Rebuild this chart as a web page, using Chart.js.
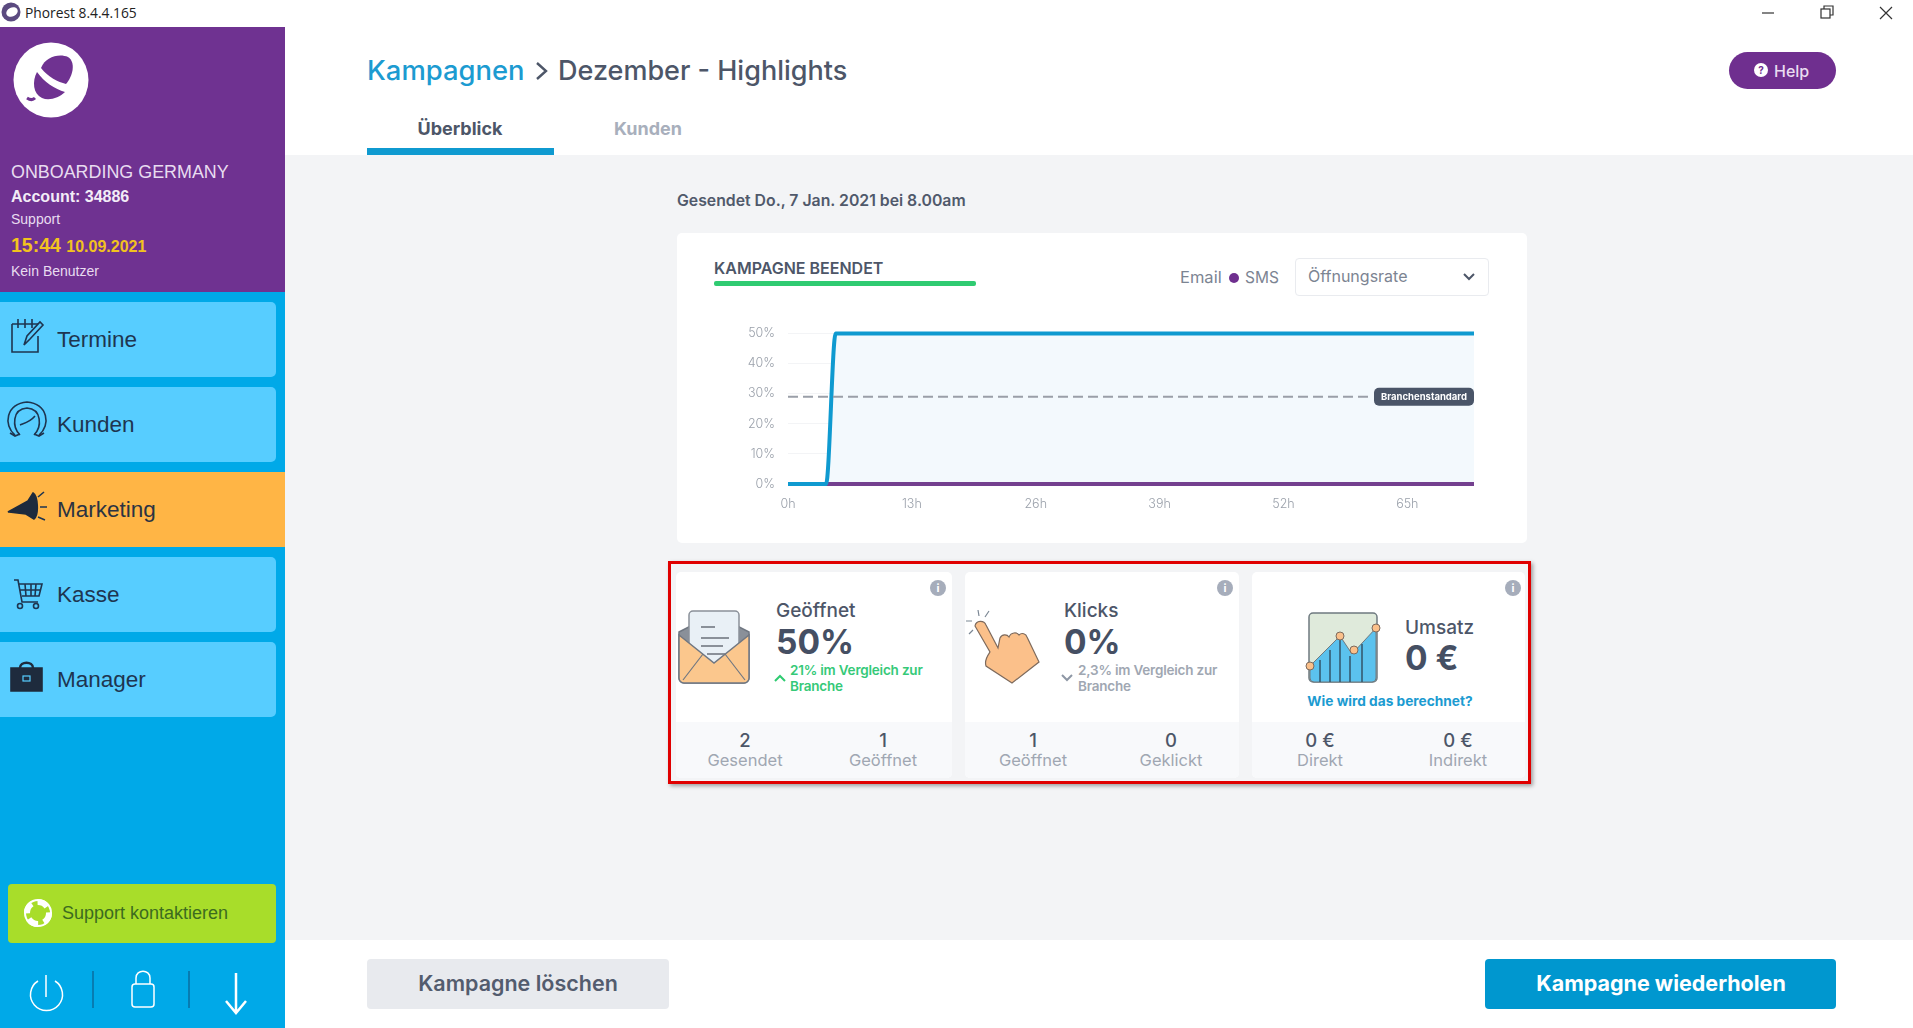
<!DOCTYPE html>
<html>
<head>
<meta charset="utf-8">
<title>Phorest</title>
<script src="https://cdn.jsdelivr.net/npm/chart.js@4"></script>
<style>
  html, body { margin: 0; width: 1913px; height: 1028px; overflow: hidden; background: #f3f4f6; font-family: Inter, "Open Sans", sans-serif; color: #4d5668; }
  .box { position: absolute; }
  .t { position: absolute; white-space: nowrap; transform: translateY(-50%); margin-top: -1px; }
  .c { transform: translate(-50%, -50%); }
  .side { font-family: "Liberation Sans", Arial, sans-serif; margin-top: 0; }
  .menu { position: absolute; left: 0; width: 276px; height: 75px; background: #57cdff; border-radius: 0 5px 5px 0; }
  .menuText { font-family: "Liberation Sans", Arial, sans-serif; font-size: 22.5px; color: #1e3550; left: 57px; margin-top: 0.5px; }
  .stat { position: absolute; top: 572px; height: 206px; background: #fff; border-radius: 5px; overflow: hidden; }
  .foot { position: absolute; left: 0; right: 0; bottom: 0; height: 56px; background: #f8f9fb; }
  .statTitle { font-size: 19px; font-weight: 500; color: #4d5668; }
  .statBig { font-size: 33.5px; font-weight: 700; color: #454f63; }
  .statSub { font-size: 13.5px; font-weight: 600; letter-spacing: -0.2px; }
  .footVal { font-size: 18.5px; font-weight: 500; color: #4d5668; }
  .footLab { font-size: 16.5px; color: #a0a7b2; }
  .info { position: absolute; width: 16px; height: 16px; border-radius: 50%; background: #a6adbb; color: #fff; font-size: 11px; font-weight: 700; text-align: center; line-height: 16px; }
  svg { position: absolute; overflow: visible; }
</style>
</head>
<body>

<!-- title bar -->
<div class="box" style="left:0;top:0;width:1913px;height:27px;background:#fff;border-bottom:1px solid #e6e6e6"></div>
<svg style="left:1px;top:2px" width="20" height="20" viewBox="0 0 20 20"><circle cx="10" cy="10" r="9.5" fill="#5b4a80"/><ellipse cx="11" cy="10" rx="6" ry="4.5" fill="#fff" transform="rotate(-25 11 10)"/></svg>
<div class="t" style="left:25px;top:13px;font-family:'Open Sans';font-size:13.8px;color:#222">Phorest 8.4.4.165</div>
<svg style="left:1761px;top:4px" width="150" height="20" fill="none" stroke="#333" stroke-width="1.2">
  <path d="M1 9h12"/><rect x="60" y="5" width="9" height="9"/><path d="M63 5V2h9v9h-3"/><path d="M119 3l12 12M131 3l-12 12"/>
</svg>

<!-- sidebar -->
<div class="box" style="left:0;top:27px;width:285px;height:265px;background:#6f3291"></div>
<div class="box" style="left:0;top:292px;width:285px;height:736px;background:#00a9e8"></div>
<svg style="left:13px;top:42px" width="76" height="76" viewBox="0 0 76 76">
  <circle cx="38" cy="38" r="37.5" fill="#fff"/>
  <path d="M28 26c4-11 18-15 27-11 8 5 5 19-2 27-8-2-18-7-25-16z" fill="#6f3291"/>
  <path d="M24 30c7 10 18 17 28 20-6 6-16 9-23 6-9-4-10-17-5-26z" fill="#6f3291"/>
  <path d="M14 56c3 2 6 2 8 0" stroke="#6f3291" stroke-width="3" fill="none"/>
</svg>
<div class="t side" style="left:11px;top:172px;font-size:17.9px;color:#e8dcf0">ONBOARDING GERMANY</div>
<div class="t side" style="left:11px;top:197px;font-size:16px;font-weight:700;color:#f3ecf7">Account: 34886</div>
<div class="t side" style="left:11px;top:219px;font-size:14px;color:#e8dcf0">Support</div>
<div class="t side" style="left:11px;top:245px;font-size:19.5px;font-weight:700;color:#f2c21e">15:44 <span style="font-size:16px">10.09.2021</span></div>
<div class="t side" style="left:11px;top:271px;font-size:14px;color:#e8dcf0">Kein Benutzer</div>

<div class="menu" style="top:302px"></div>
<div class="menu" style="top:387px"></div>
<div class="menu" style="top:472px;width:285px;background:#ffb545;border-radius:0"></div>
<div class="menu" style="top:557px"></div>
<div class="menu" style="top:642px"></div>
<div class="t menuText" style="top:339px">Termine</div>
<div class="t menuText" style="top:424px">Kunden</div>
<div class="t menuText" style="top:509px;color:#2b3342">Marketing</div>
<div class="t menuText" style="top:594px">Kasse</div>
<div class="t menuText" style="top:679px">Manager</div>

<svg style="left:0;top:300px" width="60" height="420" fill="none" stroke="#1e3550" stroke-width="1.6">
  <path d="M12 24H38M12 24V52H38V36"/><path d="M18 19v9M25 19v9M32 19v9"/><path d="M24 45l3-9 13-14 3 3-13 14z"/>
  <path d="M15 135c-12-10-9-31 12-33 21 2 24 23 12 33M20 135c-8-8-8-26 7-27 15 1 15 19 7 27M20 125c5-2 10-3 15-9M10 133l5 3 5-2M44 133l-5 3-5-2"/>
  <path d="M8 212l20-11 5-8c5 3 6 22 1 26l-8-5-17-2z" fill="#1e2b3d" stroke="#1e2b3d"/><path d="M38 197l6-5M40 207h7M38 217l7 3"/>
  <path d="M14 280h4l4 22h16M19 284h23l-3 12H22M25 284l1 12M31 284v12M36 284l-1 12M20 290h21"/><circle cx="20" cy="306" r="2.5"/><circle cx="36" cy="306" r="2.5"/>
  <path d="M11 368h31v23H11z" fill="#1e2b3d" stroke="#1e2b3d"/><path d="M20 368c0-7 13-7 13 0" stroke="#1e2b3d" stroke-width="2.5"/><rect x="23" y="376" width="7" height="5" stroke="#57cdff" stroke-width="1.2"/>
</svg>

<div class="box" style="left:8px;top:884px;width:268px;height:59px;background:#a8dd2a;border-radius:4px"></div>
<svg style="left:22px;top:897px" width="32" height="32"><circle cx="16" cy="16" r="13" fill="none" stroke="#fff" stroke-width="2"/><circle cx="16" cy="16" r="11" fill="none" stroke="#fff" stroke-width="6" stroke-dasharray="11 6"/></svg>
<div class="t side" style="left:62px;top:913px;font-size:18px;color:#3c6b1f">Support kontaktieren</div>
<svg style="left:0;top:960px" width="285" height="60" fill="none" stroke="#fff" stroke-width="1.5">
  <path d="M38 21a16 16 0 1 0 17 0M46 15v22"/>
  <path d="M93 11v37M189 11v37" stroke="#0a6ea0"/>
  <rect x="132" y="24" width="22" height="23" rx="3"/><path d="M136 24v-6c0-9 14-9 14 0v6"/>
  <path d="M236 13v40M226 41l10 12 10-12" stroke-width="2.5"/>
</svg>

<!-- header -->
<div class="box" style="left:285px;top:27px;width:1628px;height:128px;background:#fff"></div>
<div class="t" style="left:367px;top:71px;font-size:27.4px;font-weight:500;color:#1c9bd1">Kampagnen</div>
<svg style="left:534px;top:60px" width="16" height="22" fill="none" stroke="#4d5668" stroke-width="2.4"><path d="M3 3l9 8-9 8"/></svg>
<div class="t" style="left:558px;top:71px;font-size:27px;font-weight:500;color:#4d5668">Dezember - Highlights</div>
<div class="t c" style="left:460px;top:129px;font-size:18px;font-weight:700;color:#4d5668">Überblick</div>
<div class="t c" style="left:648px;top:129px;font-size:18px;font-weight:700;color:#a8afbc">Kunden</div>
<div class="box" style="left:367px;top:148px;width:187px;height:7px;background:#0f9ad0"></div>
<div class="box" style="left:1729px;top:52px;width:107px;height:37px;background:#6f2f8f;border-radius:19px"></div>
<div class="info" style="left:1754px;top:63px;width:14px;height:14px;line-height:14px;background:#fff;color:#6f2f8f;font-size:10px">?</div>
<div class="t" style="left:1774px;top:72px;font-size:16px;font-weight:500;color:#e9dcf1">Help</div>

<div class="t" style="left:677px;top:201px;font-size:15.8px;font-weight:600;color:#50596b">Gesendet Do., 7 Jan. 2021 bei 8.00am</div>

<!-- chart card -->
<div class="box" style="left:677px;top:233px;width:850px;height:310px;background:#fff;border-radius:5px"></div>
<div class="t" style="left:714px;top:269px;font-size:16px;font-weight:600;color:#4d5668">KAMPAGNE BEENDET</div>
<div class="box" style="left:714px;top:281px;width:262px;height:5px;background:#2fcb71;border-radius:2px"></div>
<div class="t" style="left:1180px;top:278px;font-size:16.5px;color:#7c8492">Email</div>
<div class="box" style="left:1229px;top:273px;width:10px;height:10px;border-radius:50%;background:#6f2f8f"></div>
<div class="t" style="left:1245px;top:278px;font-size:15.5px;color:#7c8492">SMS</div>
<div class="box" style="left:1295px;top:258px;width:192px;height:36px;border:1px solid #e9ebef;border-radius:4px"></div>
<div class="t" style="left:1308px;top:277px;font-size:16px;color:#7c8492">Öffnungsrate</div>
<svg style="left:1463px;top:272px" width="12" height="10" fill="none" stroke="#4d5668" stroke-width="2"><path d="M1 2l5 5 5-5"/></svg>

<div class="box" style="left:740px;top:313px;width:745px;height:207px"><canvas id="campaignChart"></canvas></div>

<!-- stat cards -->
<div class="stat" style="left:676px;width:276px"><div class="foot"></div></div>
<div class="stat" style="left:965px;width:274px"><div class="foot"></div></div>
<div class="stat" style="left:1252px;width:273px"><div class="foot"></div></div>
<div class="box" style="left:668px;top:561px;width:857px;height:217px;border:3.5px solid #e00000;box-shadow:2px 2px 4px rgba(0,0,0,.35)"></div>

<div class="info" style="left:930px;top:580px">i</div>
<div class="info" style="left:1217px;top:580px">i</div>
<div class="info" style="left:1505px;top:580px">i</div>

<svg style="left:677px;top:610px" width="74" height="75" viewBox="0 0 74 75">
  <path d="M2 22L37 4l35 18v46a5 5 0 0 1-5 5H7a5 5 0 0 1-5-5z" fill="#8a9099" stroke="#707782" stroke-width="1.5"/>
  <rect x="12" y="1" width="50" height="58" rx="4" fill="#e9f0f6" stroke="#8a9099" stroke-width="1.5"/>
  <path d="M24 17h14M24 28h28M24 36h22M30 44h18" stroke="#8a9099" stroke-width="2"/>
  <path d="M2 25l35 28 35-28v43a5 5 0 0 1-5 5H7a5 5 0 0 1-5-5z" fill="#fbc78d" stroke="#707782" stroke-width="1.5"/>
  <path d="M6 70l20-26M68 70L48 44" stroke="#707782" stroke-width="1.2"/>
</svg>
<svg style="left:966px;top:610px" width="74" height="75" viewBox="0 0 74 75">
  <path d="M9 16C10 10 18 10 20 15L32 38 34 28C36 24 41 24 43 27 45 22 51 22 53 25 56 22 60 24 61 27L73 52 46 73 20 56C18 50 22 45 24 42Z" fill="#fbc08a" stroke="#7d6a5d" stroke-width="1.2"/>
  <path d="M12 0l1 6M0 11h6M3 24l4-4M23 1l-4 6" stroke="#7b8794" stroke-width="1.2" fill="none"/>
</svg>
<svg style="left:1308px;top:612px" width="72" height="72" viewBox="0 0 72 72">
  <rect x="1" y="1" width="68" height="69" rx="4" fill="#dfeadb" stroke="#6f7a80" stroke-width="1.5"/>
  <path d="M2 54L32 24l12 18 24-26v50a4 4 0 0 1-4 4H6a4 4 0 0 1-4-4z" fill="#5bc2ee" stroke="#6f7a80"/>
  <path d="M12 48v22M22 38v32M32 28v42M42 44v26M54 32v38" stroke="#33546a" stroke-width="1.5"/>
  <circle cx="2" cy="54" r="4" fill="#fbc08a" stroke="#7d6a5d"/><circle cx="32" cy="24" r="4" fill="#fbc08a" stroke="#7d6a5d"/><circle cx="46" cy="38" r="4" fill="#fbc08a" stroke="#7d6a5d"/><circle cx="68" cy="16" r="4" fill="#fbc08a" stroke="#7d6a5d"/>
</svg>

<div class="t statTitle" style="left:776px;top:611px">Geöffnet</div>
<div class="t statBig" style="left:776px;top:643px">50%</div>
<svg style="left:774px;top:674px" width="12" height="8" fill="none" stroke="#2fcb71" stroke-width="2"><path d="M1 7l5-5 5 5"/></svg>
<div class="t statSub" style="left:790px;top:671px;color:#35c978">21% im Vergleich zur</div>
<div class="t statSub" style="left:790px;top:687px;color:#35c978">Branche</div>
<div class="t footVal c" style="left:745px;top:741px">2</div>
<div class="t footLab c" style="left:745px;top:761px">Gesendet</div>
<div class="t footVal c" style="left:883px;top:741px">1</div>
<div class="t footLab c" style="left:883px;top:761px">Geöffnet</div>

<div class="t statTitle" style="left:1064px;top:611px">Klicks</div>
<div class="t statBig" style="left:1064px;top:643px">0%</div>
<svg style="left:1061px;top:674px" width="12" height="8" fill="none" stroke="#8e97a5" stroke-width="2"><path d="M1 1l5 5 5-5"/></svg>
<div class="t statSub" style="left:1078px;top:671px;color:#a0a7b2">2,3% im Vergleich zur</div>
<div class="t statSub" style="left:1078px;top:687px;color:#a0a7b2">Branche</div>
<div class="t footVal c" style="left:1033px;top:741px">1</div>
<div class="t footLab c" style="left:1033px;top:761px">Geöffnet</div>
<div class="t footVal c" style="left:1171px;top:741px">0</div>
<div class="t footLab c" style="left:1171px;top:761px">Geklickt</div>

<div class="t statTitle" style="left:1405px;top:628px">Umsatz</div>
<div class="t statBig" style="left:1405px;top:659px">0 €</div>
<div class="t c" style="left:1390px;top:702px;font-size:13.7px;font-weight:700;color:#1c9bd1">Wie wird das berechnet?</div>
<div class="t footVal c" style="left:1320px;top:741px">0 €</div>
<div class="t footLab c" style="left:1320px;top:761px">Direkt</div>
<div class="t footVal c" style="left:1458px;top:741px">0 €</div>
<div class="t footLab c" style="left:1458px;top:761px">Indirekt</div>

<!-- bottom bar -->
<div class="box" style="left:285px;top:940px;width:1628px;height:88px;background:#fff"></div>
<div class="box" style="left:367px;top:959px;width:302px;height:50px;background:#e8eaee;border-radius:4px"></div>
<div class="t c" style="left:518px;top:984px;font-size:21.5px;font-weight:600;color:#535c6e">Kampagne löschen</div>
<div class="box" style="left:1485px;top:959px;width:351px;height:50px;background:#0097cf;border-radius:4px"></div>
<div class="t c" style="left:1661px;top:984px;font-size:21.5px;font-weight:700;color:#fff">Kampagne wiederholen</div>

<script>
    // values
    var emailHours = [0, 4, 5, 72];
    var emailRates = [0, 0, 50, 50];
    var smsHours = [0, 72];
    var smsRates = [0, 0];
    var benchmarkHours = [0, 61];
    var benchmarkRates = [29, 29];
    var benchmarkLabel = 'Branchenstandard';
    var benchmarkValue = 29;

    function toPoints(xs, ys) {
        return xs.map(function (x, i) { return { x: x, y: ys[i] }; });
    }

    // pill at the right end of the dashed line
    var benchmarkPill = {
        id: 'benchmarkPill',
        afterDatasetsDraw: function (chart) {
            var c = chart.ctx;
            var right = chart.scales.x.right;
            var y = chart.scales.y.getPixelForValue(benchmarkValue);
            c.save();
            c.fillStyle = '#4a5568';
            c.beginPath();
            c.roundRect(right - 100, y - 9, 100, 18, 5);
            c.fill();
            c.fillStyle = '#fff';
            c.font = '700 9.5px Inter';
            c.textAlign = 'center';
            c.textBaseline = 'middle';
            c.fillText(benchmarkLabel, right - 50, y);
            c.restore();
        }
    };

    var ctx = document.getElementById('campaignChart').getContext('2d');
    var campaignChart = new Chart(ctx, {
        type: 'line',
        data: {
            datasets: [{
                label: 'SMS',
                data: toPoints(smsHours, smsRates),
                borderColor: '#74408f',
                borderWidth: 4,
                pointRadius: 0,
                clip: false,
                order: 3
            }, {
                label: 'Branchenstandard',
                data: toPoints(benchmarkHours, benchmarkRates),
                borderColor: '#9a9fa8',
                borderWidth: 2,
                borderDash: [10, 5],
                pointRadius: 0,
                order: 1
            }, {
                label: 'Email',
                data: toPoints(emailHours, emailRates),
                borderColor: '#0f9ad0',
                backgroundColor: '#f3f9fd',
                borderWidth: 4,
                fill: 'origin',
                cubicInterpolationMode: 'monotone',
                pointRadius: 0,
                clip: false,
                order: 2
            }]
        },
        options: {
            responsive: true,
            maintainAspectRatio: false,
            animation: false,
            layout: { padding: { top: 0, right: 11 } },
            plugins: {
                legend: { display: false },
                tooltip: { enabled: false },
                filler: { drawTime: 'beforeDatasetsDraw' }
            },
            scales: {
                x: {
                    type: 'linear',
                    min: 0,
                    max: 72,
                    grid: { display: false },
                    border: { display: false },
                    afterFit: function (s) { s.height = 36; },
                    ticks: {
                        stepSize: 13,
                        includeBounds: false,
                        maxRotation: 0,
                        padding: 5,
                        color: '#9aa0aa',
                        font: { family: 'Inter', size: 12.5, weight: 300 },
                        callback: function (v) { return v + 'h'; }
                    }
                },
                y: {
                    min: 0,
                    max: 50,
                    grid: { color: '#f3f4f6', drawTicks: false },
                    border: { display: false },
                    afterFit: function (s) { s.width = 48; },
                    ticks: {
                        stepSize: 10,
                        padding: 13,
                        color: '#9aa0aa',
                        font: { family: 'Inter', size: 12.5, weight: 300 },
                        callback: function (v) { return v + '%'; }
                    }
                }
            }
        },
        plugins: [benchmarkPill]
    });
</script>
</body>
</html>
